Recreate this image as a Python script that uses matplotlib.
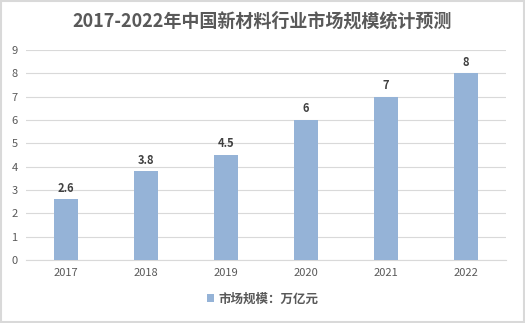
import matplotlib.pyplot as plt
from matplotlib.patches import Rectangle

plt.rcParams['font.family'] = ['Noto Sans CJK SC', 'DejaVu Sans']

# chart data
years = ['2017', '2018', '2019', '2020', '2021', '2022']
market_size = [2.6, 3.8, 4.5, 6, 7, 8]
value_labels = ['2.6', '3.8', '4.5', '6', '7', '8']
series_name = '市场规模：万亿元'
title_text = '2017-2022年中国新材料行业市场规模统计预测'

bar_color = '#95B3D7'
text_color = '#595959'

fig = plt.figure(figsize=(5.25, 3.23), dpi=100)
ax = fig.add_axes([0.0495, 0.195, 0.9145, 0.65])

x = range(len(years))
bars = ax.bar(x, market_size, width=0.31, color=bar_color, zorder=3, label=series_name)

# value labels above bars
for xi, v, lab in zip(x, market_size, value_labels):
    ax.text(xi, v + 0.2, lab, ha='center', va='bottom', fontsize=8,
            fontweight='bold', color='#404040')

ax.set_xlim(-0.5, len(years) - 0.5)
ax.set_ylim(0, 9)
ax.set_yticks(range(0, 10))
ax.set_xticks(list(x))
ax.set_xticklabels(years)
ax.tick_params(axis='both', length=0, labelsize=8, colors=text_color, pad=6)
ax.yaxis.grid(True, color='#D9D9D9', linewidth=0.8, zorder=0)
for s in ['top', 'right', 'left']:
    ax.spines[s].set_visible(False)
ax.spines['bottom'].set_color('#D9D9D9')

fig.text(0.5, 0.935, title_text, ha='center', va='center', fontsize=13,
         fontweight='bold', color=text_color)

leg = fig.legend(loc='center', bbox_to_anchor=(0.5, 0.075), frameon=False,
                 fontsize=9, handlelength=0.6, handleheight=0.6, handletextpad=0.3)
for t in leg.get_texts():
    t.set_color(text_color)
    t.set_fontweight('bold')

# light border around the chart
fig.patches.append(Rectangle((0.002, 0.003), 0.996, 0.994, transform=fig.transFigure,
                             fill=False, edgecolor='#D9D9D9', linewidth=1.5))

fig.savefig('out.png', dpi=100)
